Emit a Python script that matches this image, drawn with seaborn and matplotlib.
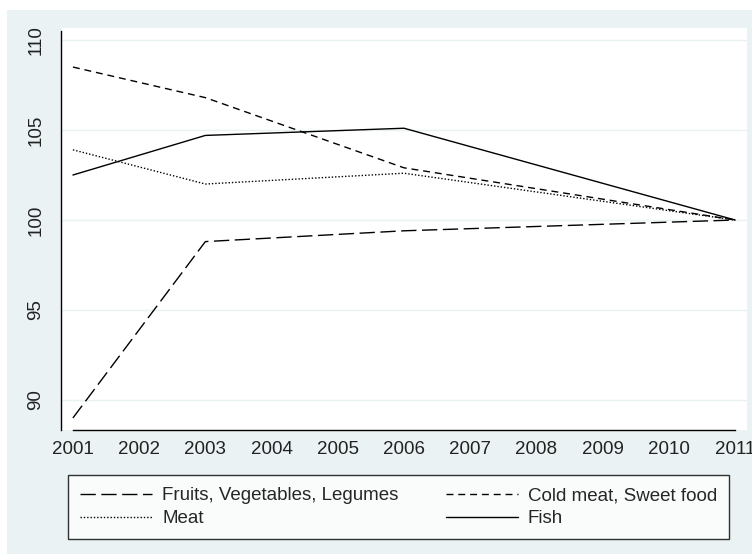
"""
Price index by food group, 2001-2011 (Stata-like line chart)
"""
import pandas as pd
import matplotlib
matplotlib.use("Agg")
import matplotlib.pyplot as plt
from matplotlib.patches import Rectangle
import seaborn as sns

# data
years = [2001, 2003, 2006, 2011]
fruits = [89.0, 98.8, 99.4, 100.0]
cold_meat = [108.5, 106.8, 102.9, 100.0]
meat = [103.9, 102.0, 102.6, 100.0]
fish = [102.5, 104.7, 105.1, 100.0]

series_names = ["Fruits, Vegetables, Legumes", "Meat",
                "Cold meat, Sweet food", "Fish"]
year_ticks = list(range(2001, 2012))
y_ticks = [90, 95, 100, 105, 110]

df = pd.concat([
    pd.DataFrame({"year": years, "value": fruits, "group": series_names[0]}),
    pd.DataFrame({"year": years, "value": meat, "group": series_names[1]}),
    pd.DataFrame({"year": years, "value": cold_meat, "group": series_names[2]}),
    pd.DataFrame({"year": years, "value": fish, "group": series_names[3]}),
], ignore_index=True)

sns.set_style("white")
plt.rcParams["font.family"] = ["Liberation Sans", "DejaVu Sans"]

bg = "#eaf2f3"
fig = plt.figure(figsize=(7.52, 5.54), dpi=100)
fig.patch.set_facecolor("white")
# light outer region, as in Stata's s2color scheme
fig.patches.append(Rectangle((7 / 752, 0), 1 - 7 / 752, 544 / 554,
                             transform=fig.transFigure, facecolor=bg,
                             edgecolor="none", zorder=-10))

ax = fig.add_axes([61 / 752, 124 / 554, 686 / 752, 402 / 554])
ax.set_facecolor("white")

dash_map = {
    series_names[0]: (11, 4),
    series_names[1]: (1, 1.4),
    series_names[2]: (5, 3.5),
    series_names[3]: "",
}
sns.lineplot(data=df, x="year", y="value", hue="group", style="group",
             palette=["black"] * 4, dashes=dash_map, linewidth=1.0,
             hue_order=series_names, style_order=series_names,
             legend=False, ax=ax)

ax.set_xlim(2000.82, 2011.18)
ax.set_ylim(88.33, 110.67)
ax.set_xticks(year_ticks)
ax.set_yticks(y_ticks)
ax.set_xlabel("")
ax.set_ylabel("")
ax.grid(axis="y", color=bg, linewidth=1.0)
ax.grid(axis="x", visible=False)

for side in ["top", "right"]:
    ax.spines[side].set_visible(False)
ax.spines["bottom"].set_bounds(2001, 2011)
ax.spines["left"].set_bounds(88.33, 110.5)
for side in ["bottom", "left"]:
    ax.spines[side].set_color("black")
    ax.spines[side].set_linewidth(1.0)

ax.tick_params(axis="both", direction="out", length=6, width=1.0,
               color="black", labelsize=13.5, labelcolor="#222222")
ax.tick_params(axis="x", pad=2)
ax.tick_params(axis="y", pad=6)
plt.setp(ax.get_yticklabels(), rotation=90, va="center")

# legend below the plot, two columns
handles = ax.get_lines()[:4]
leg = fig.legend(handles, series_names, ncol=2, loc="upper left",
                 bbox_to_anchor=(68 / 752, 1 - 475 / 554),
                 frameon=True, fancybox=False, fontsize=13.5,
                 handlelength=3.85, handletextpad=0.53, labelspacing=0.3,
                 borderpad=0.65, columnspacing=2.5, borderaxespad=0)
leg.get_frame().set_edgecolor("black")
leg.get_frame().set_linewidth(1.0)
leg.get_frame().set_facecolor("white")

fig.savefig("out.png", dpi=100, facecolor=fig.get_facecolor())
